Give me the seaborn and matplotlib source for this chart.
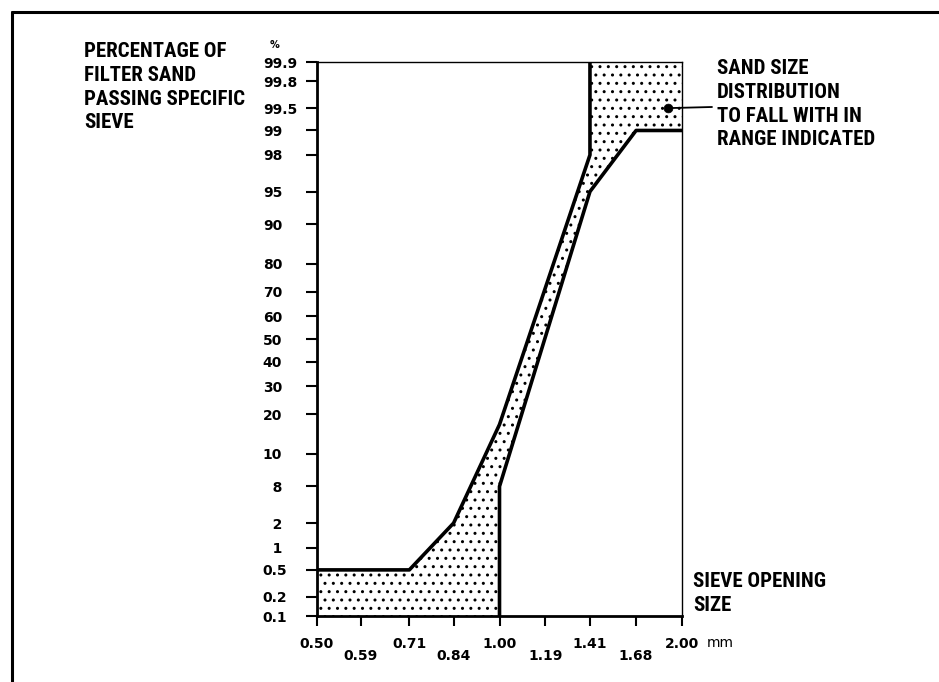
import statistics
import numpy as np
import matplotlib
matplotlib.use('Agg')
import matplotlib.pyplot as plt
from matplotlib.lines import Line2D
from matplotlib.ticker import NullLocator
from matplotlib import font_manager
import seaborn as sns

# sieve openings (mm) and percentage passing
sieve_sizes = [0.50, 0.59, 0.71, 0.84, 1.00, 1.19, 1.41, 1.68, 2.00]
sieve_labels = ['0.50', '0.59', '0.71', '0.84', '1.00', '1.19', '1.41', '1.68', '2.00']
pct_ticks = [0.1, 0.2, 0.5, 1, 2, 5, 10, 20, 30, 40, 50, 60, 70, 80, 90, 95, 98, 99, 99.5, 99.8, 99.9]
pct_labels = ['0.1', '0.2', '0.5', '\u20071', '\u20072', '\u20078', '10', '20', '30', '40', '50',
              '60', '70', '80', '90', '95', '98', '99', '99.5', '99.8', '99.9']
x_range = [0.50, 2.00]
y_range = [0.1, 99.9]

# fine limit (left line) and coarse limit (right line) of the sand band
fine_x = [0.50, 0.71, 0.84, 1.00, 1.41, 1.41]
fine_y = [0.5, 0.5, 2, 17, 98, 99.9]
coarse_x = [1.00, 1.00, 1.41, 1.68, 2.00]
coarse_y = [0.1, 5, 95, 99, 99]

# point the note refers to
pointer_x = [1.90]
pointer_y = [99.5]

sns.set_style('ticks')
plt.rcParams['font.family'] = ['DejaVu Sans']
plt.rcParams['text.color'] = 'black'
plt.rcParams['hatch.color'] = 'black'
plt.rcParams['hatch.linewidth'] = 1.0

# narrow bold face for the notes, if one is installed
narrow = [f for f in font_manager.fontManager.ttflist
          if f.weight in (700, 'bold', 800, 900, 'heavy', 'black')
          and (f.stretch in ('condensed', 'semi-condensed', 'extra-condensed')
               or 'Narrow' in f.name or 'Condensed' in f.name)]
narrow.sort(key=lambda f: (0 if 'Liberation' in f.name else 1 if 'Roboto' in f.name else 2, f.fname))
if narrow:
    head_prop = font_manager.FontProperties(fname=narrow[0].fname, size=15)
    head_ls = 1.32
else:
    head_prop = font_manager.FontProperties(family='DejaVu Sans', weight='bold', size=11.5)
    head_ls = 1.5

nd = statistics.NormalDist()
_ppf = np.vectorize(nd.inv_cdf, otypes=[float])
_cdf = np.vectorize(nd.cdf, otypes=[float])


def probit(p):
    p = np.clip(np.asarray(p, dtype=float) / 100.0, 1e-7, 1 - 1e-7)
    p = np.where(np.isfinite(p), p, 0.5)
    return _ppf(p)


def inv_probit(z):
    z = np.asarray(z, dtype=float)
    z = np.where(np.isfinite(z), z, 0.0)
    return _cdf(z) * 100.0


fig = plt.figure(figsize=(9.39, 6.82), dpi=100)
ax = fig.add_axes([317 / 939, 1 - 616 / 682, 365 / 939, 554 / 682])
ax.set_xscale('log', base=2)
ax.set_yscale('function', functions=(probit, inv_probit))

band_x = fine_x + [x_range[1]] + coarse_x[::-1] + [x_range[0]]
band_y = fine_y + [y_range[1]] + coarse_y[::-1] + [y_range[0]]
ax.fill(band_x, band_y, facecolor='none', edgecolor='black', linewidth=0, hatch='..')

sns.lineplot(x=fine_x, y=fine_y, sort=False, estimator=None, color='black', lw=2.6, ax=ax)
sns.lineplot(x=coarse_x, y=coarse_y, sort=False, estimator=None, color='black', lw=2.6, ax=ax)
sns.scatterplot(x=pointer_x, y=pointer_y, s=40, color='black', edgecolor='black', ax=ax, zorder=5)
ax.annotate('', xy=(pointer_x[0], pointer_y[0]), xycoords='data',
            xytext=(712, 682 - 107), textcoords='figure pixels',
            arrowprops=dict(arrowstyle='-', lw=1.3, color='black', shrinkA=0, shrinkB=0),
            annotation_clip=False)

ax.set_xlim(x_range)
ax.set_ylim(y_range)
ax.set_xticks(sieve_sizes, sieve_labels)
ax.xaxis.set_minor_locator(NullLocator())
ax.set_yticks(pct_ticks, pct_labels)
ax.yaxis.set_minor_locator(NullLocator())
ax.set_xlabel('')
ax.set_ylabel('')

for side, lw in [('left', 2.0), ('bottom', 2.0), ('top', 1.0), ('right', 1.0)]:
    ax.spines[side].set_visible(True)
    ax.spines[side].set_linewidth(lw)
    ax.spines[side].set_color('black')

ax.tick_params(axis='y', length=8, width=1.5, pad=31, labelsize=10, colors='black')
ax.tick_params(axis='x', length=7, width=1.5, pad=8, labelsize=10, colors='black')
for lab in ax.get_yticklabels():
    lab.set_fontweight('bold')
    lab.set_horizontalalignment('left')
for lab in ax.get_xticklabels():
    lab.set_fontweight('bold')
for i, tick in enumerate(ax.xaxis.get_major_ticks()):
    if i % 2 == 1:
        tick.set_pad(17)

fig.text(84 / 939, 1 - 42 / 682, 'PERCENTAGE OF\nFILTER SAND\nPASSING SPECIFIC\nSIEVE',
         ha='left', va='top', fontproperties=head_prop, linespacing=head_ls)
fig.text(717 / 939, 1 - 59 / 682, 'SAND SIZE\nDISTRIBUTION\nTO FALL WITH IN\nRANGE INDICATED',
         ha='left', va='top', fontproperties=head_prop, linespacing=head_ls)
fig.text(693 / 939, 1 - 572 / 682, 'SIEVE OPENING\nSIZE',
         ha='left', va='top', fontproperties=head_prop, linespacing=head_ls)
fig.text(275 / 939, 1 - 45 / 682, '%', ha='center', va='center', fontsize=7, fontweight='bold')
fig.text(707 / 939, 1 - 643 / 682, 'mm', ha='left', va='center', fontsize=10)

# page frame
fig.add_artist(Line2D([12 / 939, 12 / 939], [0, 1 - 12 / 682], transform=fig.transFigure,
                      color='black', lw=2.2))
fig.add_artist(Line2D([12 / 939, 1], [1 - 12 / 682, 1 - 12 / 682], transform=fig.transFigure,
                      color='black', lw=2.2))

fig.savefig('out.png', dpi=100, facecolor='white')
